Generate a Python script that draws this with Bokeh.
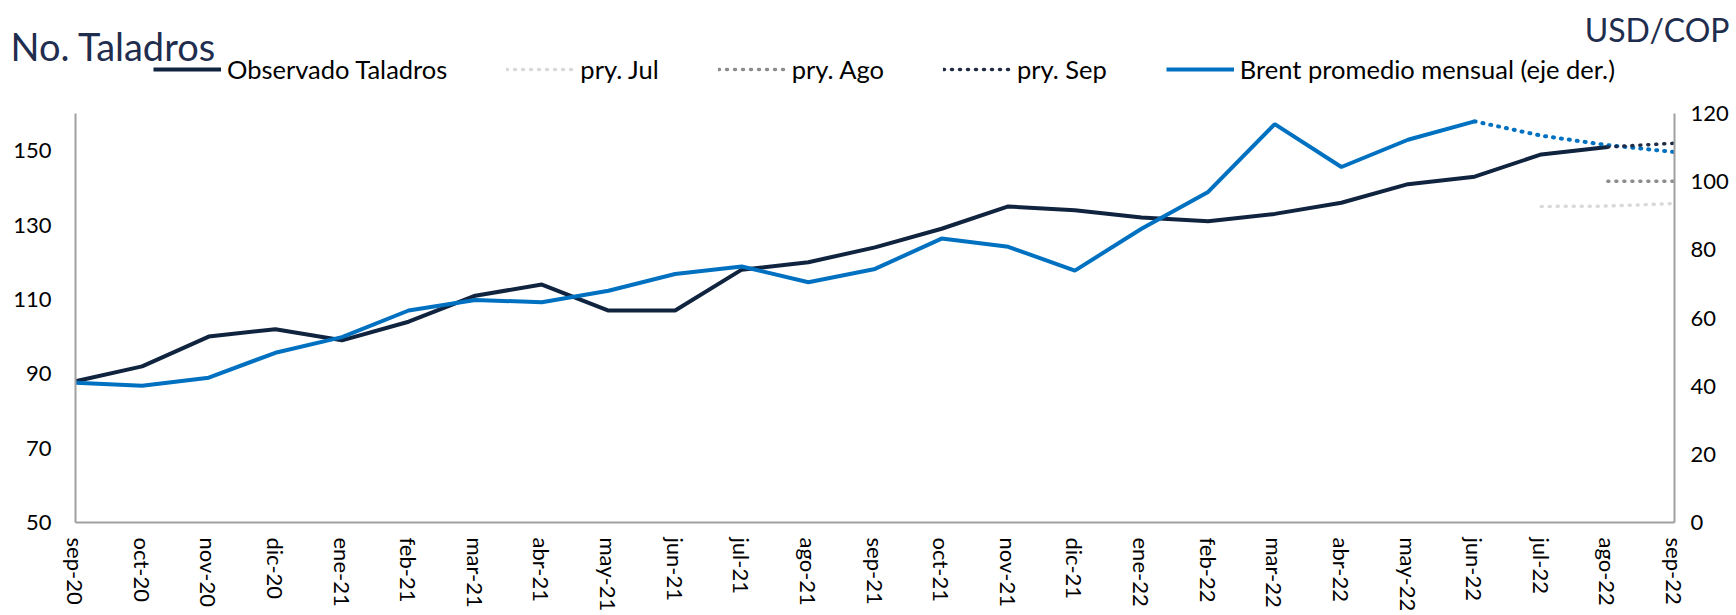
from bokeh.plotting import figure
from bokeh.models import Range1d, LinearAxis, FixedTicker, Legend, LegendItem, Label
from bokeh.embed import file_html
from bokeh.resources import INLINE

# ---------------- data ----------------
meses = ["sep-20", "oct-20", "nov-20", "dic-20", "ene-21", "feb-21", "mar-21",
         "abr-21", "may-21", "jun-21", "jul-21", "ago-21", "sep-21", "oct-21",
         "nov-21", "dic-21", "ene-22", "feb-22", "mar-22", "abr-22", "may-22",
         "jun-22", "jul-22", "ago-22", "sep-22"]

# Observado Taladros (left axis), sep-20 .. ago-22
taladros = [88, 92, 100, 102, 99, 104, 111, 114, 107, 107, 118, 120, 124,
            129, 135, 134, 132, 131, 133, 136, 141, 143, 149, 151]

# Brent promedio mensual (right axis), sep-20 .. jun-22
brent = [41.0, 40.1, 42.5, 49.8, 54.4, 62.2, 65.3, 64.6, 68.0, 72.9, 75.1,
         70.5, 74.4, 83.3, 80.9, 73.9, 86.2, 97.0, 116.9, 104.3, 112.3, 117.7]
# Brent projection (dotted), jun-22 .. sep-22
brent_proy = [117.7, 113.5, 110.7, 108.7]

# projections (left axis)
pry_jul = [135.0, 135.1, 135.8]     # jul-22 .. sep-22
pry_ago = [141.8, 141.8]            # ago-22 .. sep-22
pry_sep = [151.0, 152.0]            # ago-22 .. sep-22

ticks_izq = [50, 70, 90, 110, 130, 150]
ticks_der = [0, 20, 40, 60, 80, 100, 120]

idx = {m: i for i, m in enumerate(meses)}


def xs_from(start, vals):
    s = idx[start]
    return list(range(s, s + len(vals)))


# ---------------- styles ----------------
FONT = "Lato"
NAVY = "#10243F"
TITLE_C = "#1F2D4E"
BLUE = "#0070C0"
AXIS_C = "#A0A0A0"
DOT = "1 7"

STY = {
    "obs": dict(line_color=NAVY, line_width=4),
    "brent": dict(line_color=BLUE, line_width=4),
    "jul": dict(line_color="#D9D9D9", line_width=3.5, line_dash=DOT, line_cap="round"),
    "ago": dict(line_color="#8C8C8C", line_width=3.5, line_dash=DOT, line_cap="round"),
    "sep": dict(line_color="#1F2A44", line_width=3.5, line_dash=DOT, line_cap="round"),
}

# ---------------- main chart ----------------
p = figure(width=1736, height=524, output_backend="svg",
           toolbar_location=None,
           x_range=Range1d(0, len(meses) - 1), y_range=Range1d(50, 160),
           min_border_left=75, min_border_right=62, min_border_top=23,
           min_border_bottom=91, outline_line_color=None,
           background_fill_color="white", border_fill_color="white")
p.grid.visible = False
p.extra_y_ranges = {"brent": Range1d(0, 120)}

p.line(xs_from("sep-20", taladros), taladros, **STY["obs"])
p.line(xs_from("sep-20", brent), brent, y_range_name="brent", **STY["brent"])
p.line(xs_from("jun-22", brent_proy), brent_proy, line_color=BLUE, line_width=4,
       line_dash=DOT, line_cap="round", y_range_name="brent")
p.line(xs_from("jul-22", pry_jul), pry_jul, **STY["jul"])
p.line(xs_from("ago-22", pry_ago), pry_ago, **STY["ago"])
p.line(xs_from("ago-22", pry_sep), pry_sep, **STY["sep"])

xa = p.xaxis[0]
xa.ticker = FixedTicker(ticks=list(range(len(meses))))
xa.major_label_overrides = {i: m for i, m in enumerate(meses)}
xa.major_label_orientation = "vertical"
xa.major_label_standoff = 15
xa.major_label_text_font = FONT
xa.major_label_text_font_size = "22px"
xa.major_label_text_color = "black"

ya = p.yaxis[0]
ya.ticker = FixedTicker(ticks=ticks_izq)
ya.major_label_standoff = 24
ya.major_label_text_font = FONT
ya.major_label_text_font_size = "22px"
ya.major_label_text_color = "black"

ra = LinearAxis(y_range_name="brent", ticker=FixedTicker(ticks=ticks_der))
ra.major_label_standoff = 16
ra.major_label_text_font = FONT
ra.major_label_text_font_size = "22px"
ra.major_label_text_color = "black"
p.add_layout(ra, "right")

for ax in (xa, ya, ra):
    ax.axis_line_color = AXIS_C
    ax.axis_line_width = 2
    ax.major_tick_line_color = None
    ax.minor_tick_line_color = None
    ax.major_tick_out = 0
    ax.major_tick_in = 0
    ax.minor_tick_out = 0
    ax.minor_tick_in = 0

# ---------------- header: titles + legend ----------------
h = figure(width=1736, height=90, output_backend="svg", toolbar_location=None,
           x_range=Range1d(0, 1), y_range=Range1d(0, 1),
           x_axis_location=None, y_axis_location=None,
           min_border_left=0, min_border_right=0, min_border_top=0,
           min_border_bottom=0, outline_line_color=None,
           background_fill_color="white", border_fill_color="white")
h.grid.visible = False

# legend-only renderers (a single point draws no line)
lr = {k: h.line([0.5], [0.5], **v) for k, v in STY.items()}

legend = Legend(items=[
    LegendItem(label="Observado Taladros", renderers=[lr["obs"]]),
    LegendItem(label="pry. Jul", renderers=[lr["jul"]]),
    LegendItem(label="pry. Ago", renderers=[lr["ago"]]),
    LegendItem(label="pry. Sep", renderers=[lr["sep"]]),
    LegendItem(label="Brent promedio mensual (eje der.)", renderers=[lr["brent"]]),
], orientation="horizontal", location=(153, 6), glyph_width=68,
    glyph_height=20, label_standoff=6, spacing=59, padding=0, margin=0,
    label_text_font=FONT, label_text_font_size="25.5px",
    label_text_color="black", border_line_color=None,
    background_fill_alpha=0)
h.add_layout(legend, "center")

h.add_layout(Label(x=10, y=45, x_units="screen", y_units="screen",
                   text="No. Taladros", text_font=FONT, text_font_size="38px",
                   text_color=TITLE_C, text_baseline="alphabetic"))
h.add_layout(Label(x=1729, y=61, x_units="screen", y_units="screen",
                   text="USD/COP", text_font=FONT, text_font_size="32px",
                   text_color=TITLE_C, text_align="right",
                   text_baseline="alphabetic"))

open("out.html", "w").write(file_html([h, p], INLINE))
